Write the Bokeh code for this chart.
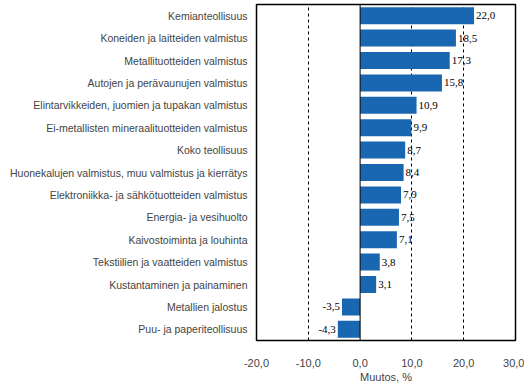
from bokeh.plotting import figure
from bokeh.models import ColumnDataSource, FactorRange, FixedTicker, Span, LabelSet
from bokeh.embed import file_html
from bokeh.resources import INLINE

categories = [
    "Kemianteollisuus",
    "Koneiden ja laitteiden valmistus",
    "Metallituotteiden valmistus",
    "Autojen ja perävaunujen valmistus",
    "Elintarvikkeiden, juomien ja tupakan valmistus",
    "Ei-metallisten mineraalituotteiden valmistus",
    "Koko teollisuus",
    "Huonekalujen valmistus, muu valmistus ja kierrätys",
    "Elektroniikka- ja sähkötuotteiden valmistus",
    "Energia- ja vesihuolto",
    "Kaivostoiminta ja louhinta",
    "Tekstiilien ja vaatteiden valmistus",
    "Kustantaminen ja painaminen",
    "Metallien jalostus",
    "Puu- ja paperiteollisuus",
]
values = [22.0, 18.5, 17.3, 15.8, 10.9, 9.9, 8.7, 8.4, 7.9, 7.5, 7.1, 3.8, 3.1, -3.5, -4.3]
x_ticks = [-20, -10, 0, 10, 20, 30]
x_tick_labels = ["-20,0", "-10,0", "0,0", "10,0", "20,0", "30,0"]

labels = [f"{v:.1f}".replace(".", ",") for v in values]
pos = [v >= 0 for v in values]

src_pos = ColumnDataSource(dict(
    cat=[c for c, p in zip(categories, pos) if p],
    val=[v for v, p in zip(values, pos) if p],
    lab=[l for l, p in zip(labels, pos) if p],
))
src_neg = ColumnDataSource(dict(
    cat=[c for c, p in zip(categories, pos) if not p],
    val=[v for v, p in zip(values, pos) if not p],
    lab=[l for l, p in zip(labels, pos) if not p],
))
src_all = ColumnDataSource(dict(cat=categories, val=values))

p = figure(
    width=524, height=386,
    y_range=FactorRange(*reversed(categories), range_padding=0),
    x_range=(-20, 30),
    output_backend="svg", toolbar_location=None,
    min_border_left=256, min_border_right=9, min_border_top=4, min_border_bottom=46,
)
p.hbar(y="cat", right="val", left=0, height=0.76, source=src_all,
       fill_color="#1a67b1", line_color=None)

p.add_layout(Span(location=0, dimension="height", line_color="black", line_width=1))

font = "Liberation Sans"
p.add_layout(LabelSet(x="val", y="cat", text="lab", source=src_pos, x_offset=2,
                      text_align="left", text_baseline="middle",
                      text_font_size="11px", text_font=font, text_color="black"))
p.add_layout(LabelSet(x="val", y="cat", text="lab", source=src_neg, x_offset=-2,
                      text_align="right", text_baseline="middle",
                      text_font_size="11px", text_font=font, text_color="black"))

p.outline_line_color = "black"
p.outline_line_width = 1.5
p.background_fill_color = "white"
p.border_fill_color = "white"

p.ygrid.grid_line_color = None
p.xgrid.ticker = FixedTicker(ticks=[-10, 10, 20])
p.xgrid.grid_line_color = "black"
p.xgrid.grid_line_dash = "3 3"
p.xgrid.grid_line_width = 1

for ax in (p.xaxis, p.yaxis):
    ax.axis_line_color = None
    ax.major_tick_line_color = None
    ax.minor_tick_line_color = None
    ax.major_tick_out = 0
    ax.major_tick_in = 0
    ax.minor_tick_out = 0
    ax.minor_tick_in = 0

p.xaxis.ticker = FixedTicker(ticks=x_ticks)
p.xaxis.major_label_overrides = dict(zip(x_ticks, x_tick_labels))
p.xaxis.major_label_standoff = 18
p.xaxis.major_label_text_font = font
p.xaxis.major_label_text_font_size = "11px"
p.xaxis.axis_label = "Muutos, %"
p.xaxis.axis_label_text_font = font
p.xaxis.axis_label_text_font_size = "11px"
p.xaxis.axis_label_text_font_style = "normal"
p.xaxis.axis_label_standoff = 1

p.yaxis.major_label_standoff = 9
p.yaxis.major_label_text_font = font
p.yaxis.major_label_text_font_size = "10.5px"

open("out.html", "w").write(file_html(p, INLINE))
